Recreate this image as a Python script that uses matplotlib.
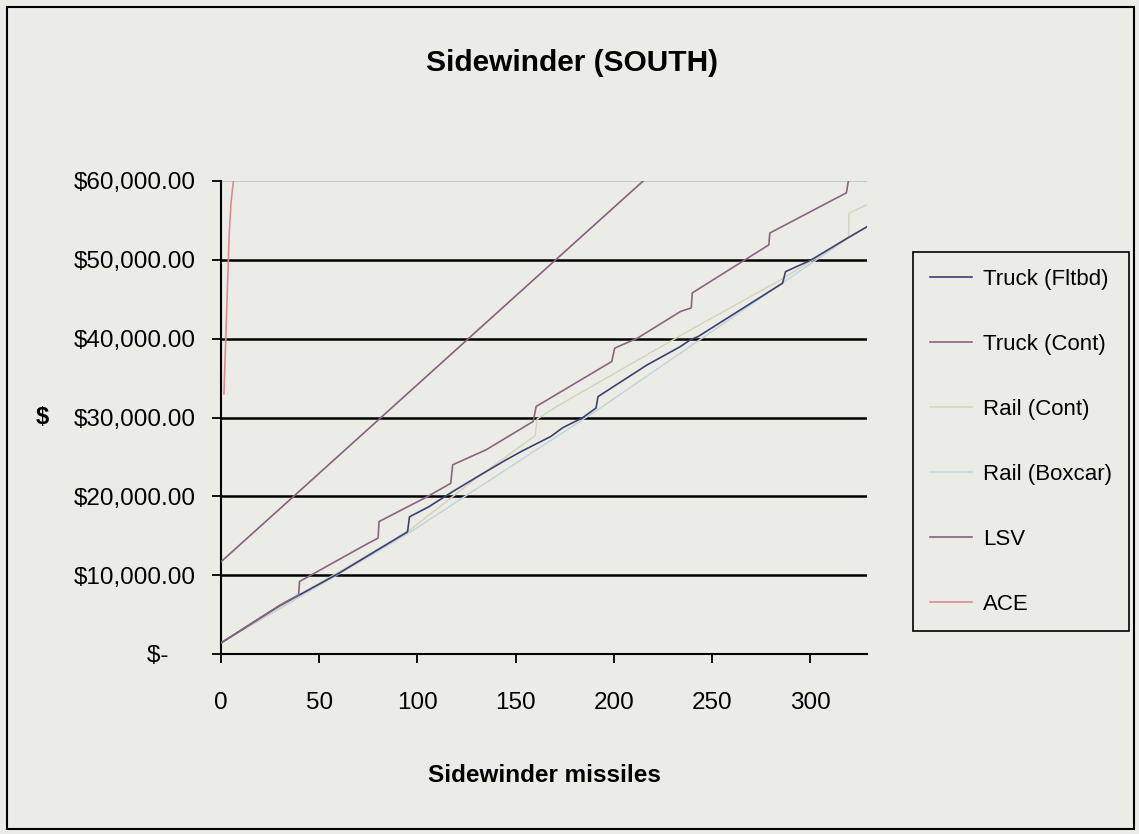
import matplotlib
matplotlib.use('Agg')
import matplotlib.pyplot as plt
from matplotlib.patches import Rectangle
from matplotlib.ticker import FuncFormatter

plt.rcParams['font.family'] = ['Liberation Sans', 'DejaVu Sans']

# values (missiles, $)
fltbd_x = [0, 30, 40, 60, 95, 96, 106, 118, 132, 145, 153, 168, 174, 184, 191, 192,
           217, 234, 239, 243, 286, 287.5, 299, 302, 319, 329]
fltbd_y = [1400, 6150, 7500, 10240, 15500, 17400, 18700, 20600, 22700, 24600, 25700,
           27600, 28700, 29950, 31200, 32650, 36670, 39000, 39850, 40270, 47040, 48500,
           49800, 50200, 52750, 54200]

cont_x = [0, 30, 39.5, 40, 75, 80, 80.5, 105, 117, 118, 135, 159, 160.5, 199, 200.5,
          212, 234, 239.5, 240, 279, 279.5, 318.5, 319.5]
cont_y = [1400, 6200, 7500, 9200, 14050, 14700, 16800, 19950, 21650, 24000, 25900,
          29500, 31400, 37100, 38800, 40050, 43450, 43900, 45800, 51900, 53400, 58500,
          60000]

rail_cont_x = [0, 40, 95, 130, 160, 161, 171, 239, 286, 319.6, 319.8, 329]
rail_cont_y = [1400, 7500, 15500, 22300, 27700, 29800, 31400, 41100, 47600, 52800,
               55900, 57000]

rail_box_x = [0, 96, 192, 319, 329]
rail_box_y = [1400, 15400, 31000, 52700, 54200]

lsv_x = [0, 37, 170, 215]
lsv_y = [11700, 20000, 49900, 60000]

ace_x = [1.5, 4.2, 5.1, 6.3]
ace_y = [33000, 53400, 57200, 60000]

x_ticks = [0, 50, 100, 150, 200, 250, 300]
y_ticks = [0, 10000, 20000, 30000, 40000, 50000, 60000]

bg = '#ececE7'

fig = plt.figure(figsize=(11.39, 8.34), dpi=100)
fig.patch.set_facecolor(bg)
ax = fig.add_axes([221 / 1139, 1 - 654 / 834, 646 / 1139, 473 / 834])
ax.set_facecolor(bg)

for v in y_ticks[1:-1]:
    ax.axhline(v, color='black', lw=1.8, zorder=1)
ax.axhline(60000, color='#c9c9c4', lw=1.5, zorder=1)

ax.plot(rail_box_x, rail_box_y, color='#c2d4dd', lw=1.1, zorder=2, label='Rail (Boxcar)')
ax.plot(rail_cont_x, rail_cont_y, color='#d6d3bd', lw=1.1, zorder=2, label='Rail (Cont)')
ax.plot(fltbd_x, fltbd_y, color='#3e4070', lw=1.2, zorder=3, label='Truck (Fltbd)')
ax.plot(cont_x, cont_y, color='#8a6482', lw=1.2, zorder=4, label='Truck (Cont)')
ax.plot(lsv_x, lsv_y, color='#87607e', lw=1.2, zorder=4, label='LSV')
ax.plot(ace_x, ace_y, color='#dc8a90', lw=1.2, zorder=4, label='ACE')

ax.set_xlim(0, 329)
ax.set_ylim(0, 60000)
ax.set_xticks(x_ticks)
ax.set_yticks(y_ticks)
ax.yaxis.set_major_formatter(FuncFormatter(lambda v, p: '$-    ' if v == 0 else '${:,.2f}'.format(v)))
ax.tick_params(axis='both', direction='out', length=6.5, width=1.3, labelsize=17.5)
ax.tick_params(axis='y', pad=12)
ax.tick_params(axis='x', pad=21)

for s in ['top', 'right']:
    ax.spines[s].set_visible(False)
ax.spines['left'].set_linewidth(1.5)
ax.spines['bottom'].set_linewidth(1.5)

ax.set_xlabel('Sidewinder missiles', fontsize=17.5, fontweight='bold')
ax.xaxis.set_label_coords(0.5, -0.256)
ax.xaxis.label.set_va('center')
ax.set_ylabel('$', fontsize=17, fontweight='bold', rotation=0)
ax.yaxis.set_label_coords(-0.276, 0.5)
ax.yaxis.label.set_va('center')
ax.yaxis.label.set_ha('center')

fig.text(572 / 1139, 1 - 63 / 834, 'Sidewinder (SOUTH)', fontsize=21.5, fontweight='bold',
         ha='center', va='center')

handles, labels = ax.get_legend_handles_labels()
order = ['Truck (Fltbd)', 'Truck (Cont)', 'Rail (Cont)', 'Rail (Boxcar)', 'LSV', 'ACE']
hmap = dict(zip(labels, handles))
leg = fig.legend([hmap[k] for k in order], order, loc='upper left',
                 bbox_to_anchor=(913 / 1139, 1 - 252 / 834), borderaxespad=0, fontsize=16,
                 labelspacing=1.98, handlelength=1.9, handletextpad=0.5,
                 borderpad=0.75, fancybox=False, framealpha=1, facecolor=bg,
                 edgecolor='black')
leg.get_frame().set_linewidth(1.2)

fig.patches.append(Rectangle((7 / 1139, 5 / 834), 1127 / 1139, 822 / 834, transform=fig.transFigure,
                             fill=False, edgecolor='black', lw=1.5))

fig.savefig('out.png', dpi=100, facecolor=bg)
